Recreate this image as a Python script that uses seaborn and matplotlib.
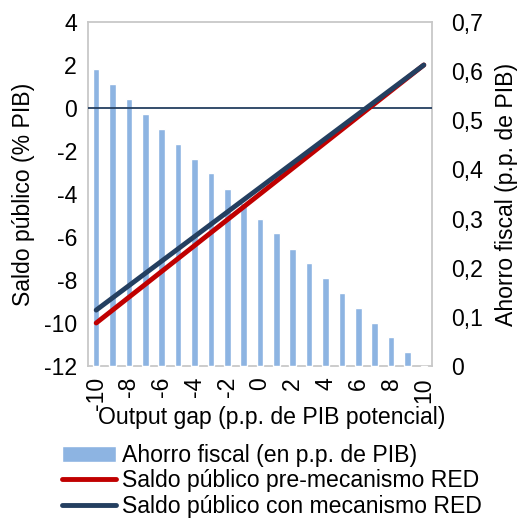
import matplotlib
matplotlib.use("Agg")
import matplotlib.pyplot as plt
import seaborn as sns
import pandas as pd
from matplotlib.ticker import FuncFormatter

sns.set_theme(style="white")
plt.rcParams['font.family'] = ['Liberation Sans', 'DejaVu Sans']
plt.rcParams['axes.unicode_minus'] = False
plt.rcParams['text.color'] = 'black'
plt.rcParams['axes.labelcolor'] = 'black'
plt.rcParams['xtick.color'] = 'black'
plt.rcParams['ytick.color'] = 'black'

output_gap = [-10, -9, -8, -7, -6, -5, -4, -3, -2, -1, 0, 1, 2, 3, 4, 5, 6, 7, 8, 9, 10]
ahorro_fiscal = [0.604, 0.573, 0.543, 0.513, 0.483, 0.452, 0.422, 0.392, 0.361, 0.331, 0.300,
                 0.271, 0.239, 0.210, 0.180, 0.149, 0.119, 0.088, 0.058, 0.028, -0.003]
saldo_pre = [-10.0, -9.4, -8.8, -8.2, -7.6, -7.0, -6.4, -5.8, -5.2, -4.6, -4.0,
             -3.4, -2.8, -2.2, -1.6, -1.0, -0.4, 0.2, 0.8, 1.4, 2.0]
saldo_con = [-9.40, -8.83, -8.26, -7.69, -7.12, -6.55, -5.98, -5.41, -4.84, -4.27, -3.70,
             -3.13, -2.56, -1.99, -1.42, -0.85, -0.28, 0.29, 0.86, 1.43, 2.0]
xtick_vals = [-10, -8, -6, -4, -2, 0, 2, 4, 6, 8, 10]

lab_bar = "Ahorro fiscal (en p.p. de PIB)"
lab_pre = "Saldo público pre-mecanismo RED"
lab_con = "Saldo público con mecanismo RED"

df = pd.DataFrame({"x": output_gap, "ahorro": ahorro_fiscal, "pre": saldo_pre, "con": saldo_con})

c_bar = "#8DB4E2"
c_red = "#C00000"
c_blue = "#243F60"
fs = 16.6
fs_leg = 16.6

fig = plt.figure(figsize=(5.22, 5.19), dpi=100)
ax = fig.add_axes([88/522, 1-366/519, (432-88)/522, (366-22)/519])

# bars on host axis (right scale)
sns.barplot(data=df, x="x", y="ahorro", ax=ax, native_scale=True, color=c_bar,
            width=0.4, saturation=1, label=lab_bar, legend=False)
for p in ax.patches:
    p.set_clip_on(False)
    p.set_zorder(3)
ax.set_ylim(0, 0.7)
ax.set_xlim(-10.5, 10.5)
ax.set_xticks(xtick_vals)
ax.set_xticklabels([str(v) for v in xtick_vals], rotation=90)
ax.set_xlabel("Output gap (p.p. de PIB potencial)", fontsize=fs, labelpad=2)
ax.xaxis.set_label_coords(0.535, -0.115)
ax.xaxis.label.set_verticalalignment("top")
ax.tick_params(axis="x", labelsize=fs, length=0, pad=8)
for s in ax.spines.values():
    s.set_color("#C8C8C8")
    s.set_linewidth(1.3)

# lines on twin axis (left scale)
ax2 = ax.twinx()
ax2.set_zorder(ax.zorder + 1)
ax2.patch.set_visible(False)
ax2.axhline(0, color=c_blue, linewidth=1.3)
sns.lineplot(data=df, x="x", y="pre", ax=ax2, color=c_red, linewidth=3.5, label=lab_pre,
             legend=False, solid_capstyle="round")
sns.lineplot(data=df, x="x", y="con", ax=ax2, color=c_blue, linewidth=3.5, label=lab_con,
             legend=False, solid_capstyle="round")
ax2.set_ylim(-12, 4)
ax2.set_yticks(list(range(-12, 5, 2)))
ax2.yaxis.tick_left()
ax2.yaxis.set_label_position("left")
ax2.set_ylabel("Saldo público (% PIB)", fontsize=fs, labelpad=6)
ax2.tick_params(axis="y", labelsize=fs, length=0, pad=8)
for s in ax2.spines.values():
    s.set_visible(False)

# right-hand scale for the bars (set after twinx)
ax.yaxis.tick_right()
ax.yaxis.set_label_position("right")
ax.set_yticks([0, 0.1, 0.2, 0.3, 0.4, 0.5, 0.6, 0.7])
ax.yaxis.set_major_formatter(FuncFormatter(lambda v, p: "0" if abs(v) < 1e-9 else f"{v:.1f}".replace(".", ",")))
ax.set_ylabel("Ahorro fiscal (p.p. de PIB)", fontsize=fs, labelpad=8)
ax.tick_params(axis="y", labelsize=fs, length=0, pad=14)

h1, l1 = ax.get_legend_handles_labels()
h2, l2 = ax2.get_legend_handles_labels()
leg = fig.legend(h1 + h2, l1 + l2, loc="upper left", bbox_to_anchor=(62/522, 1-444/519),
                 frameon=False, fontsize=fs_leg, handlelength=2.35, handletextpad=0.25,
                 labelspacing=0.1, borderaxespad=0, borderpad=0.0)

fig.savefig("out.png", dpi=100)
